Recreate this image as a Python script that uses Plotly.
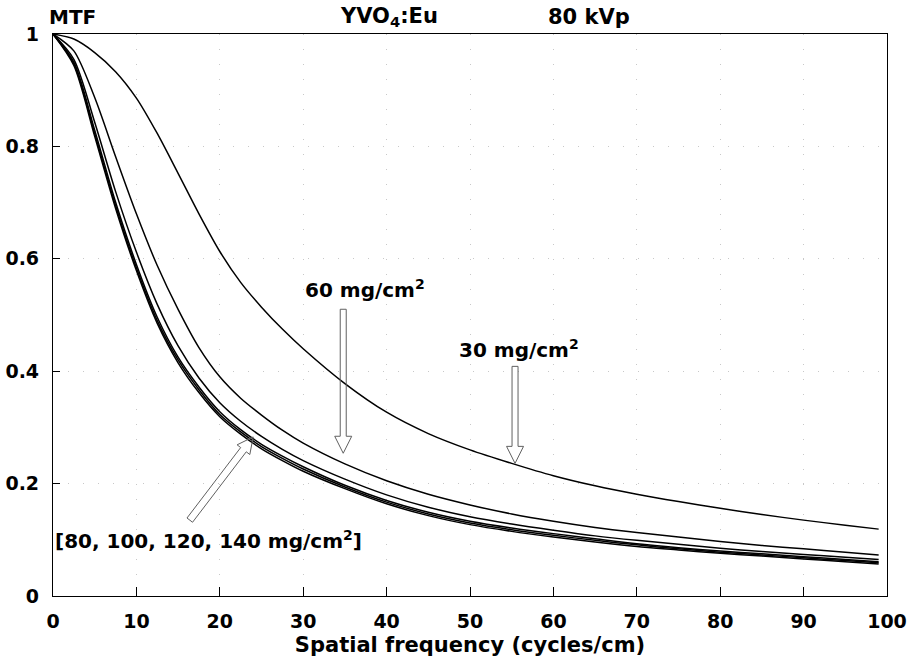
import plotly.graph_objects as go
import math

# ---- data ----
freq = [0, 2.5, 5, 7.5, 10, 12.5, 15, 17.5, 20, 22.5, 25, 27.5, 30,
        35, 40, 45, 50, 55, 60, 65, 70, 75, 80, 85, 90, 95, 99]

mtf_30 = [1.0, 0.991, 0.967, 0.933, 0.886, 0.823, 0.752, 0.680, 0.613, 0.558, 0.514, 0.475, 0.440,
          0.378, 0.327, 0.289, 0.260, 0.236, 0.214, 0.196, 0.181, 0.168, 0.156, 0.145, 0.135, 0.126, 0.119]
mtf_60 = [1.0, 0.970, 0.887, 0.782, 0.680, 0.588, 0.510, 0.442, 0.390, 0.352, 0.322, 0.295, 0.272,
          0.235, 0.205, 0.181, 0.162, 0.146, 0.133, 0.122, 0.113, 0.105, 0.097, 0.090, 0.084, 0.078, 0.073]
mtf_80 = [1.0, 0.955, 0.843, 0.720, 0.612, 0.519, 0.445, 0.388, 0.344, 0.311, 0.284, 0.261, 0.241,
          0.208, 0.180, 0.158, 0.141, 0.128, 0.117, 0.107, 0.099, 0.092, 0.085, 0.079, 0.074, 0.069, 0.065]
mtf_100 = [1.0, 0.950, 0.829, 0.701, 0.590, 0.496, 0.425, 0.372, 0.328, 0.296, 0.270, 0.249, 0.230,
           0.197, 0.170, 0.149, 0.133, 0.121, 0.111, 0.102, 0.093, 0.086, 0.080, 0.075, 0.070, 0.065, 0.061]
mtf_120 = [1.0, 0.947, 0.823, 0.695, 0.584, 0.490, 0.420, 0.367, 0.323, 0.292, 0.266, 0.245, 0.226,
           0.194, 0.167, 0.146, 0.130, 0.118, 0.108, 0.099, 0.091, 0.084, 0.078, 0.073, 0.068, 0.063, 0.059]
mtf_140 = [1.0, 0.944, 0.818, 0.690, 0.579, 0.485, 0.415, 0.362, 0.319, 0.288, 0.262, 0.241, 0.222,
           0.191, 0.164, 0.143, 0.127, 0.115, 0.105, 0.096, 0.088, 0.082, 0.076, 0.071, 0.066, 0.061, 0.057]

series = [mtf_30, mtf_60, mtf_80, mtf_100, mtf_120, mtf_140]
series_names = ["30 mg/cm²", "60 mg/cm²", "80 mg/cm²", "100 mg/cm²", "120 mg/cm²", "140 mg/cm²"]

x_ticks = [0, 10, 20, 30, 40, 50, 60, 70, 80, 90, 100]
y_ticks = [0, 0.2, 0.4, 0.6, 0.8, 1]
y_tick_labels = ["0", "0.2", "0.4", "0.6", "0.8", "1"]

FONT = "DejaVu Sans"

W, H = 910, 672
ML, MR, MT, MB = 53, 23, 34, 76
PW, PH = W - ML - MR, H - MT - MB
PX_PER_X = PW / 100.0
PX_PER_Y = PH / 1.0

fig = go.Figure()
for ys, nm in zip(series, series_names):
    fig.add_trace(go.Scatter(x=freq, y=ys, mode="lines", name=nm,
                             line=dict(color="black", width=1.5, shape="spline", smoothing=0.8),
                             showlegend=False, hoverinfo="x+y+name"))


def hollow_arrow(tip_x, tip_y, angle_deg, length=150, shaft_w=6, head_w=17, head_l=17):
    """Outline arrow; geometry in pixels converted to data coords. angle = direction of travel."""
    a = math.radians(angle_deg)
    ux, uy = math.cos(a), math.sin(a)
    nx, ny = -uy, ux
    pts_px = [(0, 0)]
    base = -head_l
    for (s, n) in [(base, head_w / 2), (base, shaft_w / 2), (-length, shaft_w / 2),
                   (-length, -shaft_w / 2), (base, -shaft_w / 2), (base, -head_w / 2)]:
        pts_px.append((s * ux + n * nx, s * uy + n * ny))
    pts = [(tip_x + px / PX_PER_X, tip_y + py / PX_PER_Y) for px, py in pts_px]
    path = "M " + " L ".join(f"{p[0]:.4f},{p[1]:.5f}" for p in pts) + " Z"
    fig.add_shape(type="path", path=path, xref="x", yref="y",
                  line=dict(color="#606060", width=1), fillcolor="rgba(0,0,0,0)")


hollow_arrow(34.8, 0.254, -90, length=144)
hollow_arrow(55.4, 0.236, -90, length=97)
dx_px = (24.0 - 16.4) * PX_PER_X
dy_px = (0.283 - 0.135) * PX_PER_Y
ang = math.degrees(math.atan2(dy_px, dx_px))
hollow_arrow(24.0, 0.283, ang, length=math.hypot(dx_px, dy_px), shaft_w=7, head_w=16, head_l=16)

def tf(size):
    return dict(family=FONT, size=size, color="black", weight="bold")

# texts outside the axis range -> paper coordinates
paper_ann = [
    dict(text="MTF", x=-0.007, y=1.030, size=20),
    dict(text="YVO<sub>4</sub>:Eu", x=0.342, y=1.030, size=21),
    dict(text="80 kVp", x=0.591, y=1.030, size=21),
]
for a in paper_ann:
    s = a.pop("size")
    fig.add_annotation(xref="paper", yref="paper", showarrow=False, xanchor="left",
                       yanchor="middle", font=tf(s), **a)

data_ann = [
    dict(text="60 mg/cm<sup>2</sup>", x=30.0, y=0.546),
    dict(text="30 mg/cm<sup>2</sup>", x=48.4, y=0.440),
]
for a in data_ann:
    fig.add_annotation(xref="x", yref="y", showarrow=False, xanchor="left",
                       yanchor="middle", font=tf(20), **a)
fig.add_annotation(xref="paper", yref="y", x=0.0, y=0.0996, showarrow=False, xanchor="left",
                   yanchor="middle", font=tf(20),
                   text="[80, 100, 120, 140 mg/cm<sup>2</sup>]")

axis_common = dict(showline=True, linecolor="black", linewidth=1.2, mirror=True,
                   ticks="inside", tickcolor="black", tickwidth=1.2, automargin=False,
                   showgrid=True, gridcolor="#c8c8c8", griddash="1px,14px", gridwidth=1,
                   zeroline=False, tickfont=tf(19))

fig.update_xaxes(range=[0, 100], tickvals=x_ticks, ticklen=9, ticklabelstandoff=8,
                 title=dict(text="Spatial frequency (cycles/cm)", font=tf(21), standoff=6),
                 **axis_common)
fig.update_yaxes(range=[0, 1], tickvals=y_ticks, ticktext=y_tick_labels, ticklen=7,
                 ticklabelstandoff=9, **axis_common)

fig.update_layout(width=W, height=H, margin=dict(l=ML, r=MR, t=MT, b=MB, autoexpand=False),
                  paper_bgcolor="white", plot_bgcolor="white", showlegend=False)

fig.write_html("out.html", config={"displayModeBar": False},
               post_script="document.body.style.margin='0';document.body.style.overflow='hidden';")
